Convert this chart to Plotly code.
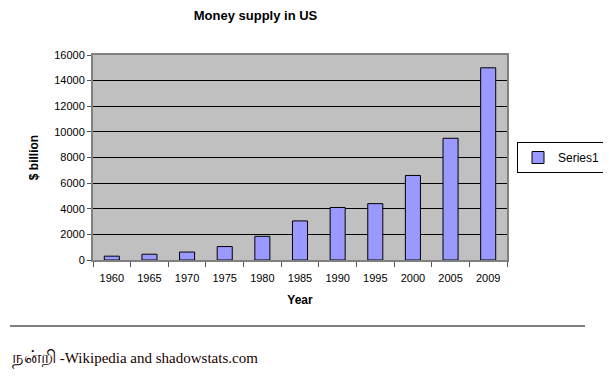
import plotly.graph_objects as go

years = ["1960", "1965", "1970", "1975", "1980", "1985", "1990", "1995", "2000", "2005", "2009"]
values = [300, 450, 620, 1050, 1850, 3050, 4100, 4400, 6600, 9500, 15000]
y_ticks = [0, 2000, 4000, 6000, 8000, 10000, 12000, 14000, 16000]

L, T, R, B = 85, 47, 112, 125
PW, PH = 611 - L - R, 377 - T - B

fig = go.Figure()
fig.add_trace(go.Bar(
    x=years, y=values, name="Series1",
    marker=dict(color="#9999FF", line=dict(color="#000000", width=1)),
))

fig.update_layout(
    width=611, height=377,
    margin=dict(l=L, r=R, t=T, b=B, autoexpand=False),
    paper_bgcolor="white",
    plot_bgcolor="#C0C0C0",
    bargap=0.6,
    showlegend=True,
    title=dict(text="<b>Money supply in US</b>", x=247.5 / 611, xanchor="center",
               y=1 - 7 / 377, yanchor="middle",
               font=dict(family="Liberation Sans, Arial", size=13, color="black")),
    legend=dict(x=1 + 10 / PW, y=0.5, xanchor="left", yanchor="middle",
                bgcolor="white", bordercolor="black", borderwidth=1,
                font=dict(family="Liberation Sans, Arial", size=12, color="black"),
                itemwidth=30, tracegroupgap=0),
    font=dict(family="Liberation Sans, Arial", size=11, color="black"),
)

fig.update_xaxes(
    type="category", tickson="boundaries", ticks="outside", ticklen=5, tickcolor="#555",
    ticklabelstandoff=7,
    showline=True, linecolor="#808080", linewidth=2, mirror=True, automargin=False,
    title=dict(text="<b>Year</b>", font=dict(size=12), standoff=12),
    tickfont=dict(size=11), showgrid=False,
)
fig.update_yaxes(
    range=[0, 16000], tickvals=y_ticks, tickformat="d", ticks="outside", ticklen=4, tickcolor="#555",
    showline=True, linecolor="#808080", linewidth=2, mirror=True, automargin=False,
    gridcolor="black", gridwidth=1, zeroline=False,
    title=dict(text="<b>$ billion</b>", font=dict(size=12), standoff=13),
    tickfont=dict(size=11),
)

fig.add_shape(type="line", xref="paper", yref="paper",
              x0=(2 - L) / PW, x1=(577 - L) / PW,
              y0=(PH - (318 - T)) / PH, y1=(PH - (318 - T)) / PH,
              line=dict(color="black", width=1))
fig.add_annotation(
    xref="paper", yref="paper", x=(2 - L) / PW, y=(PH - (350 - T)) / PH,
    xanchor="left", yanchor="middle",
    text="<span style='font-size:18px'>நன்றி</span> -Wikipedia and shadowstats.com", showarrow=False,
    font=dict(family="Liberation Serif, Times New Roman, serif", size=15, color="#200000"),
)

fig.write_html("out.html")
